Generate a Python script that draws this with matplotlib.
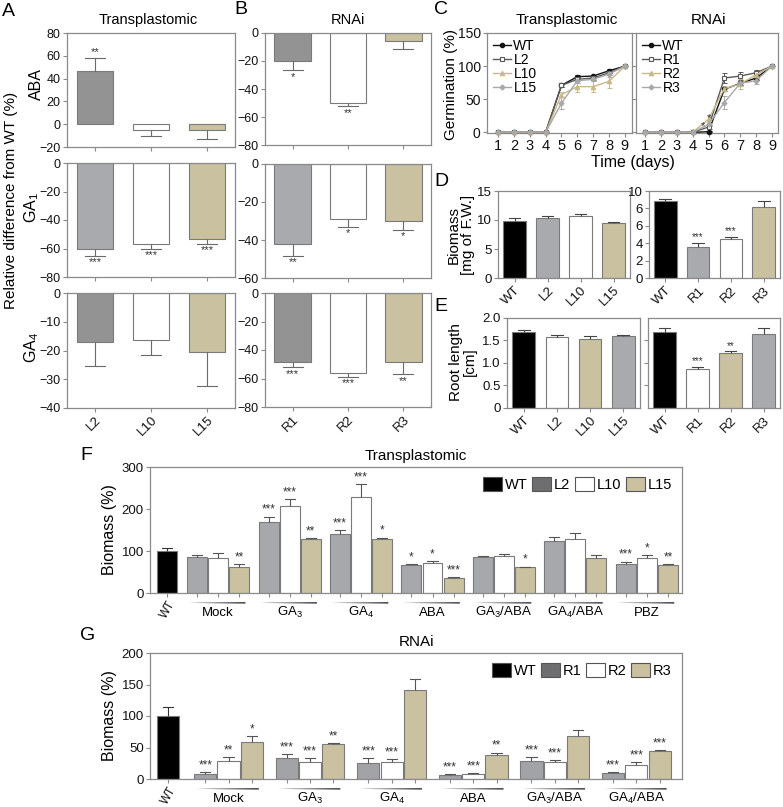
import matplotlib
matplotlib.use('Agg')
import matplotlib.pyplot as plt
import numpy as np
from matplotlib.patches import Patch, Polygon
import matplotlib.transforms as mtransforms

W, H = 783, 807
plt.rcParams['font.family'] = ['Liberation Sans', 'DejaVu Sans']
plt.rcParams['mathtext.fontset'] = 'custom'
plt.rcParams['mathtext.rm'] = 'Liberation Sans'
plt.rcParams['mathtext.default'] = 'regular'

# ---------------- data ----------------
tp_lines = ['L2', 'L10', 'L15']
rnai_lines = ['R1', 'R2', 'R3']

A_aba = [46.5, -5, -5];      A_aba_err = [11.5, 5.4, 7.7];  A_aba_st = ['**', '', '']
A_ga1 = [-60.7, -57, -53];   A_ga1_err = [4.3, 3, 3.6];     A_ga1_st = ['***', '***', '***']
A_ga4 = [-17.2, -16.5, -20.6]; A_ga4_err = [8.1, 4.9, 11.6]; A_ga4_st = ['', '', '']

B_aba = [-20.3, -50, -6];    B_aba_err = [6.4, 2.5, 5.5];   B_aba_st = ['*', '**', '']
B_ga1 = [-42, -29, -30];     B_ga1_err = [6.3, 4.2, 4.7];   B_ga1_st = ['**', '*', '*']
B_ga4 = [-48.2, -56, -48.7]; B_ga4_err = [4, 2.8, 8.3];     B_ga4_st = ['***', '***', '**']

days = [1, 2, 3, 4, 5, 6, 7, 8, 9]
C_tp = {
    'WT':  [0, 0, 0, 0, 71, 84, 85, 93, 100],
    'L2':  [0, 0, 0, 0, 71, 80, 82, 90, 100],
    'L10': [0, 0, 0, 0, 57, 69, 69, 77, 100],
    'L15': [0, 0, 0, 0, 44, 78, 80, 88, 100],
}
C_tp_err = {
    'WT':  [0, 0, 0, 0, 2, 2, 2, 3, 0],
    'L2':  [0, 0, 0, 0, 2, 3, 3, 3, 0],
    'L10': [0, 0, 0, 0, 4, 8, 8, 10, 0],
    'L15': [0, 0, 0, 0, 9, 3, 3, 4, 0],
}
C_rn = {
    'WT': [0, 0, 0, 0, 1, 65, 74, 82, 100],
    'R1': [0, 0, 0, 0, 8, 82, 85, 90, 100],
    'R2': [0, 0, 0, 0, 20, 66, 73, 87, 100],
    'R3': [0, 0, 0, 0, 12, 45, 74, 78, 100],
}
C_rn_err = {
    'WT': [0, 0, 0, 0, 1, 3, 3, 3, 0],
    'R1': [0, 0, 0, 0, 3, 8, 6, 4, 0],
    'R2': [0, 0, 0, 0, 4, 4, 7, 6, 0],
    'R3': [0, 0, 0, 0, 3, 10, 4, 5, 0],
}

D_tp_lab = ['WT', 'L2', 'L10', 'L15']
D_tp = [9.8, 10.4, 10.7, 9.45];   D_tp_err = [0.5, 0.3, 0.25, 0.15]
D_rn_lab = ['WT', 'R1', 'R2', 'R3']
D_rn = [8.9, 3.6, 4.5, 8.2];      D_rn_err = [0.2, 0.45, 0.25, 0.6]; D_rn_st = ['', '***', '***', '']
D_rn_ticklabels = ['0', '2', '4', '6', '6', '10']

E_tp = [1.69, 1.57, 1.54, 1.59];  E_tp_err = [0.05, 0.06, 0.06, 0.04]
E_rn = [1.69, 0.86, 1.22, 1.64];  E_rn_err = [0.09, 0.06, 0.04, 0.13]; E_rn_st = ['', '***', '**', '']

F_groups = ['Mock', 'GA$_3$', 'GA$_4$', 'ABA', 'GA$_3$/ABA', 'GA$_4$/ABA', 'PBZ']
F_wt, F_wt_err = 100, 8
F_L2 = [85, 170, 141, 65.5, 85, 123, 69];   F_L2_err = [5, 12, 9, 4, 2, 10, 6]
F_L10 = [83, 206, 229, 71, 87, 128, 83];    F_L10_err = [12, 17, 31, 5.5, 5, 16, 8]
F_L15 = [63, 128, 129, 35.5, 61, 84, 66];   F_L15_err = [6, 3, 3, 2.5, 2, 7, 2]
F_L2_st = ['', '***', '***', '*', '', '', '***']
F_L10_st = ['', '***', '***', '*', '', '', '*']
F_L15_st = ['**', '**', '*', '***', '*', '', '**']

G_groups = ['Mock', 'GA$_3$', 'GA$_4$', 'ABA', 'GA$_3$/ABA', 'GA$_4$/ABA']
G_wt, G_wt_err = 100, 14
G_R1 = [8.5, 34, 25.4, 7, 29, 9.5];      G_R1_err = [2.5, 5, 8, 1, 6, 1.5]
G_R2 = [28.6, 27, 27, 8, 26.5, 21.7];    G_R2_err = [6.5, 7, 5, 1, 4, 5.3]
G_R3 = [58.7, 55.5, 141, 38, 69, 44];    G_R3_err = [9, 1.5, 18, 4, 9, 2.5]
G_R1_st = ['***', '***', '***', '***', '***', '***']
G_R2_st = ['**', '***', '***', '***', '***', '***']
G_R3_st = ['*', '**', '', '**', '', '***']

# ---------------- styles ----------------
DARK = '#939393'
LIGHT = '#a9aaae'
KHAKI = '#c9c1a0'
WHITE = '#ffffff'
BLACK = '#000000'
EDGE = '#7a7a7a'
SP = '#8a8a8a'
ERRC = '#6a6a6a'

fig = plt.figure(figsize=(W / 100, H / 100), dpi=100)


def rect(x0, y0, x1, y1):
    return [x0 / W, 1 - y1 / H, (x1 - x0) / W, (y1 - y0) / H]


def style(ax, fs=9.0):
    for s in ax.spines.values():
        s.set_color(SP)
        s.set_linewidth(0.9)
    ax.tick_params(color=SP, labelcolor='#111111', length=3, width=0.8, labelsize=fs, pad=1.5)


def bars(ax, x, vals, errs, colors, width, capw, stars=None, star_fs=8, off=0.0,
         ecol=ERRC, lw=0.8):
    ax.bar(x, vals, width, color=colors, edgecolor=EDGE, linewidth=0.8, zorder=2)
    for i, (xi, v, e) in enumerate(zip(x, vals, errs)):
        end = v + e if v >= 0 else v - e
        ax.plot([xi, xi], [v, end], color=ecol, lw=lw, zorder=3, solid_capstyle='butt')
        ax.plot([xi - capw, xi + capw], [end, end], color=ecol, lw=lw, zorder=3)
        if stars and stars[i]:
            if v >= 0:
                ax.text(xi, end + off, stars[i], ha='center', va='bottom', fontsize=star_fs,
                        color='#333333')
            else:
                ax.text(xi, end - off, stars[i], ha='center', va='top', fontsize=star_fs,
                        color='#333333')


# ---------------- Panels A & B ----------------
A_rects = [(67, 33, 235, 147), (67, 163, 235, 277), (67, 293, 235, 408)]
B_rects = [(265, 33, 431, 145), (265, 164, 431, 278), (265, 293, 431, 407)]
A_sets = [(A_aba, A_aba_err, A_aba_st, [DARK, WHITE, KHAKI], (-20, 80), [-20, 0, 20, 40, 60, 80]),
          (A_ga1, A_ga1_err, A_ga1_st, [LIGHT, WHITE, KHAKI], (-80, 0), [-80, -60, -40, -20, 0]),
          (A_ga4, A_ga4_err, A_ga4_st, [DARK, WHITE, KHAKI], (-40, 0), [-40, -30, -20, -10, 0])]
B_sets = [(B_aba, B_aba_err, B_aba_st, [DARK, WHITE, KHAKI], (-80, 0), [-80, -60, -40, -20, 0]),
          (B_ga1, B_ga1_err, B_ga1_st, [LIGHT, WHITE, KHAKI], (-60, 0), [-60, -40, -20, 0]),
          (B_ga4, B_ga4_err, B_ga4_st, [DARK, WHITE, KHAKI], (-80, 0), [-80, -60, -40, -20, 0])]

for rects, sets, labs in [(A_rects, A_sets, tp_lines), (B_rects, B_sets, rnai_lines)]:
    for k, (r, (vals, errs, st, cols, yl, yt)) in enumerate(zip(rects, sets)):
        ax = fig.add_axes(rect(*r))
        x = np.arange(3)
        span = yl[1] - yl[0]
        bars(ax, x, vals, errs, cols, 0.66, 0.18, st, star_fs=8, off=span * 0.012)
        ax.set_xlim(-0.5, 2.5)
        ax.set_ylim(*yl)
        ax.set_yticks(yt)
        ax.set_xticks(x)
        style(ax, 9.0)
        if k == 2:
            ax.set_xticklabels(labs, rotation=45, ha='right', va='top', rotation_mode='anchor',
                               fontsize=9.5)
        else:
            ax.set_xticklabels([])

fig.text(148 / W, 1 - 20 / H, 'Transplastomic', ha='center', va='center', fontsize=10.5)
fig.text(348 / W, 1 - 20 / H, 'RNAi', ha='center', va='center', fontsize=10.5)
fig.text(11 / W, 1 - 200 / H, 'Relative difference from WT (%)', rotation=90,
         ha='center', va='center', fontsize=11)
fig.text(36 / W, 1 - 84 / H, 'ABA', rotation=90, ha='center', va='center', fontsize=11.5)
fig.text(32 / W, 1 - 207 / H, 'GA$_1$', rotation=90, ha='center', va='center', fontsize=11.5)
fig.text(32 / W, 1 - 347 / H, 'GA$_4$', rotation=90, ha='center', va='center', fontsize=11.5)

# ---------------- Panel C ----------------
styles_tp = {'WT': dict(color='#111111', marker='o', mfc='#111111', mec='#111111'),
             'L2': dict(color='#5a5a5a', marker='s', mfc='white', mec='#5a5a5a'),
             'L10': dict(color='#c8b88a', marker='^', mfc='#c8b88a', mec='#c8b88a'),
             'L15': dict(color='#a8a8a8', marker='D', mfc='#a8a8a8', mec='#a8a8a8')}
styles_rn = {'WT': styles_tp['WT'], 'R1': styles_tp['L2'], 'R2': styles_tp['L10'],
             'R3': styles_tp['L15']}

for r, data, errd, sty, xl in [((487, 33, 632, 133), C_tp, C_tp_err, styles_tp, (0.3, 9.45)),
                               ((636, 33, 778, 133), C_rn, C_rn_err, styles_rn, (0.43, 9.38))]:
    ax = fig.add_axes(rect(*r))
    handles = []
    for name in data:
        s = sty[name]
        ax.errorbar(days, data[name], yerr=errd[name], fmt='none', ecolor=s['color'],
                    elinewidth=0.7, capsize=1.8, capthick=0.7, zorder=2)
        ms = 3.2 if s['marker'] != 'D' else 2.6
        h, = ax.plot(days, data[name], color=s['color'], lw=1.0, marker=s['marker'], ms=ms,
                     mfc=s['mfc'], mec=s['mec'], mew=0.8, clip_on=False, zorder=3, label=name)
        handles.append(h)
    ax.set_xlim(*xl)
    ax.set_ylim(-1, 150)
    ax.set_xticks(days)
    ax.set_yticks([0, 50, 100, 150])
    style(ax, 10)
    ax.tick_params(axis='x', labelsize=10.5)
    if data is C_rn:
        ax.set_yticklabels([])
        ax.text(4.68, 9, '*', ha='center', va='center', fontsize=8, color='#333333')
        ax.text(5.0, 22, '*', ha='center', va='center', fontsize=8, color='#333333')
    ax.legend(handles=handles, loc='upper left', frameon=False, fontsize=10, handlelength=1.3,
              handletextpad=0.15, labelspacing=0.0, borderaxespad=0.25, borderpad=0.2)

fig.text(567 / W, 1 - 20 / H, 'Transplastomic', ha='center', va='center', fontsize=11)
fig.text(708 / W, 1 - 20 / H, 'RNAi', ha='center', va='center', fontsize=11)
fig.text(633 / W, 1 - 163 / H, 'Time (days)', ha='center', va='center', fontsize=11.5)
fig.text(451 / W, 1 - 84 / H, 'Germination (%)', rotation=90, ha='center', va='center',
         fontsize=11)

# ---------------- Panel D ----------------
axd1 = fig.add_axes(rect(498, 191, 630, 278))
x4 = np.arange(4)
bars(axd1, x4, D_tp, D_tp_err, [BLACK, LIGHT, WHITE, KHAKI], 0.68, 0.18, ecol='#444444')
axd1.set_xlim(-0.5, 3.5); axd1.set_ylim(0, 15); axd1.set_yticks([0, 5, 10, 15])
axd1.set_xticks(x4)
style(axd1, 9.5)
axd1.set_xticklabels(D_tp_lab, rotation=45, ha='right', va='top', rotation_mode='anchor')

axd2 = fig.add_axes(rect(649, 191, 780, 278))
bars(axd2, x4, D_rn, D_rn_err, [BLACK, LIGHT, WHITE, KHAKI], 0.68, 0.18, D_rn_st, star_fs=7,
     off=0.08, ecol='#444444')
axd2.set_xlim(-0.5, 3.5); axd2.set_ylim(0, 10); axd2.set_yticks([0, 2, 4, 6, 8, 10])
axd2.set_yticklabels(D_rn_ticklabels)
axd2.set_xticks(x4)
style(axd2, 9.5)
axd2.set_xticklabels(D_rn_lab, rotation=45, ha='right', va='top', rotation_mode='anchor')
fig.text(461 / W, 1 - 235 / H, 'Biomass\n[mg of F.W.]', rotation=90, ha='center', va='center',
         fontsize=11, linespacing=1.0)

# ---------------- Panel E ----------------
axe1 = fig.add_axes(rect(507, 318, 640, 408))
bars(axe1, x4, E_tp, E_tp_err, [BLACK, WHITE, KHAKI, LIGHT], 0.68, 0.18, ecol='#444444')
axe1.set_xlim(-0.5, 3.5); axe1.set_ylim(0, 2.0)
axe1.set_yticks([0, 0.5, 1.0, 1.5, 2.0])
axe1.set_yticklabels(['0', '0.5', '1.0', '1.5', '2.0'])
axe1.set_xticks(x4)
style(axe1, 9.5)
axe1.set_xticklabels(D_tp_lab, rotation=45, ha='right', va='top', rotation_mode='anchor')

axe2 = fig.add_axes(rect(648, 318, 780, 408))
bars(axe2, x4, E_rn, E_rn_err, [BLACK, WHITE, KHAKI, LIGHT], 0.68, 0.18, E_rn_st, star_fs=7,
     off=0.015, ecol='#444444')
axe2.set_xlim(-0.5, 3.5); axe2.set_ylim(0, 2.0)
axe2.set_yticks([0.5, 1.0, 1.5])
axe2.set_yticklabels([])
axe2.set_xticks(x4)
style(axe2, 9.5)
axe2.set_xticklabels(D_rn_lab, rotation=45, ha='right', va='top', rotation_mode='anchor')
fig.text(463 / W, 1 - 362 / H, 'Root length\n[cm]', rotation=90, ha='center', va='center',
         fontsize=11, linespacing=1.0)

# ---------------- Panels F & G ----------------
def group_panel(r, groups, wt, wt_err, series, errs, stars, colors, leg_labels, leg_colors,
                ylim, yticks, first, step, xlim, capw, title):
    ax = fig.add_axes(rect(*r))
    centers = first + step * np.arange(len(groups))
    bars(ax, [0], [wt], [wt_err], [BLACK], 0.95, capw, ecol='#333333')
    ticks = [0]
    for j, (vals, e, st, c) in enumerate(zip(series, errs, stars, colors)):
        xs = centers + (j - 1)
        bars(ax, xs, vals, e, [c] * len(vals), 0.95, capw, st, star_fs=8.5,
             off=ylim[1] * 0.005, ecol='#555555')
        ticks += list(xs)
    ax.set_xlim(*xlim)
    ax.set_ylim(*ylim)
    ax.set_yticks(yticks)
    ax.set_xticks(sorted(ticks))
    lbl = [''] * len(ticks)
    lbl[0] = 'WT'
    style(ax, 9.5)
    ax.tick_params(axis='x', pad=1.0)
    ax.set_xticklabels(lbl, rotation=60, ha='right', va='top', rotation_mode='anchor',
                       fontsize=8.5)
    ax.set_ylabel('Biomass (%)', fontsize=11.5, labelpad=3)
    ax.set_title(title, fontsize=11, pad=5)
    tr = mtransforms.blended_transform_factory(ax.transData, ax.transAxes)
    for c, g in zip(centers, groups):
        x0, x1 = c - 1.4, c + 1.3
        poly = Polygon([[x0, -0.078], [x1, -0.071], [x1, -0.085]], closed=True,
                       facecolor='#555555', edgecolor='none', transform=tr, clip_on=False)
        ax.add_patch(poly)
        ax.text(c, -0.155, g, transform=tr, ha='center', va='center', fontsize=9.5)
    handles = [Patch(facecolor=fc, edgecolor='#555555', linewidth=0.8) for fc in leg_colors]
    ax.legend(handles, leg_labels, loc='upper right', ncol=4, frameon=False, fontsize=10.5,
              handlelength=1.3, handleheight=1.1, handletextpad=0.2, columnspacing=0.3,
              borderaxespad=0.3)
    return ax


group_panel((150, 467, 682, 593), F_groups, F_wt, F_wt_err, [F_L2, F_L10, F_L15],
            [F_L2_err, F_L10_err, F_L15_err], [F_L2_st, F_L10_st, F_L15_st],
            ['#a7a8ac', WHITE, KHAKI], ['WT', 'L2', 'L10', 'L15'],
            [BLACK, '#6e6e70', WHITE, KHAKI], (0, 300), [0, 100, 200, 300],
            2.43, 3.4, (-0.81, 24.5), 0.24, 'Transplastomic')

group_panel((150, 653, 682, 779), G_groups, G_wt, G_wt_err, [G_R1, G_R2, G_R3],
            [G_R1_err, G_R2_err, G_R3_err], [G_R1_st, G_R2_st, G_R3_st],
            ['#a2a3a7', WHITE, KHAKI], ['WT', 'R1', 'R2', 'R3'],
            [BLACK, '#6e6e70', WHITE, KHAKI], (0, 200), [0, 50, 100, 150, 200],
            2.6, 3.5, (-0.77, 22.06), 0.22, 'RNAi')

# ---------------- panel letters ----------------
for letter, (px, py) in {'A': (2, 12), 'B': (234, 10), 'C': (434, 10), 'D': (434, 181),
                         'E': (434, 307), 'F': (80, 455), 'G': (80, 635)}.items():
    fig.text(px / W, 1 - py / H, letter, ha='left', va='center', fontsize=14)

fig.savefig('out.png', dpi=100)
